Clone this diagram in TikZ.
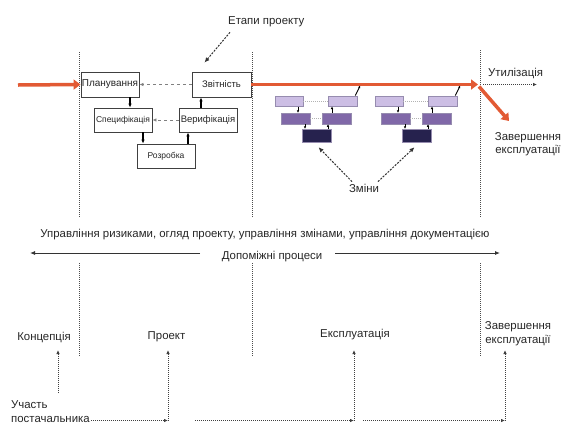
\documentclass[tikz,border=0pt]{standalone}
\usepackage{fontspec}
\setmainfont{Liberation Sans}
\usetikzlibrary{arrows.meta,calc}
\definecolor{orangeline}{RGB}{226,90,52}
\definecolor{lavtop}{RGB}{204,190,228}
\definecolor{lavmid}{RGB}{128,104,168}
\definecolor{lavbot}{RGB}{38,34,78}
\definecolor{lavedge}{RGB}{150,140,175}
\tikzset{
  box/.style={draw=black!75, line width=0.9pt, fill=white, minimum width=58pt, minimum height=25pt, inner sep=0pt, text=black!85},
  arr/.style={-{Latex[length=4pt,width=3.5pt]}, line width=1.1pt},
  dgray/.style={dashed, gray, line width=0.7pt, -{Latex[length=4pt,width=3.5pt]}},
  vdot/.style={black!70, line width=0.9pt, dash pattern=on 1pt off 1pt},
  dotarr/.style={black!75, line width=0.9pt, dash pattern=on 1pt off 1pt, -{Latex[length=4pt,width=3.5pt]}},
  dasharr/.style={black!80, line width=1pt, dash pattern=on 2pt off 1.3pt, -{Latex[length=5pt,width=4.5pt]}},
  oarr/.style={orangeline, line width=3.5pt, -{Triangle[length=7pt,width=10pt]}},
  gbox/.style={draw=lavedge, line width=0.5pt, minimum width=29pt, minimum height=11pt, inner sep=0pt},
  garr/.style={-{Latex[length=2.5pt,width=2.5pt]}, line width=0.9pt},
  gdot/.style={gray!60, line width=0.6pt, dash pattern=on 1pt off 1pt},
  txt/.style={inner sep=0pt, text=black!85, font=\fontsize{11.4}{13.5}\selectfont},
  solidarr/.style={black!80, line width=0.9pt, -{Latex[length=5pt,width=4pt]}},
}
\begin{document}
\begin{tikzpicture}[x=1pt,y=-1pt]
\useasboundingbox (0,0) rectangle (561,424);
% vertical dotted lines
\foreach \xx/\yt in {79/52,252/52,480/50}{
  \draw[vdot] (\xx,\yt) -- (\xx,217);
  \draw[vdot] (\xx,263) -- (\xx,357);
}
% project stages
\node[box, font=\fontsize{10}{12}\selectfont] (plan) at (110,84.5) {Планування};
\node[box, minimum width=59pt, font=\fontsize{9.5}{11}\selectfont] (zvit) at (221.5,84.5) {Звітність};
\node[box, minimum height=24pt, font=\fontsize{8.5}{10}\selectfont] (spec) at (123,120) {Специфікація};
\node[box, minimum height=24pt, font=\fontsize{9.5}{11}\selectfont] (verif) at (208,120) {Верифікація};
\node[box, minimum height=24pt, font=\fontsize{8.5}{10}\selectfont] (rozr) at (166,156) {Розробка};
\draw[arr] ([xshift=20pt]plan.south) -- ([xshift=20pt]plan.south |- spec.north);
\draw[arr] ([xshift=20pt]spec.south) -- ([xshift=20pt]spec.south |- rozr.north);
\draw[arr] ([xshift=22pt]rozr.north) -- ([xshift=22pt]rozr.north |- verif.south);
\draw[arr] ([xshift=-7pt]verif.north) -- ([xshift=-7pt]verif.north |- zvit.south);
\draw[dgray] (zvit.west) -- (plan.east);
\draw[dgray] (verif.west) -- (spec.east);
% title
\node[txt, anchor=west] (etapy) at (228,22) {Етапи проекту};
\draw[dasharr] ([xshift=2pt,yshift=-5pt]etapy.south west) -- ([xshift=-17pt,yshift=9pt]zvit.north);
% orange life line
\coordinate (ostart) at (18,85);
\coordinate (oend) at (478,84.5);
\coordinate (odown) at (509,121);
\coordinate (uend) at (537,84.5);
\draw[oarr] (ostart) -- (plan.west);
\draw[oarr] (zvit.east) -- (oend);
\draw[oarr] ([xshift=1pt,yshift=-2pt]oend) -- (odown);
\draw[dotarr] ([xshift=5pt]oend) -- (uend);
\node[txt, anchor=west] (utyl) at (488,73) {Утилізація};
\node[txt, align=center] (zav1) at (528,144) {Завершення\\експлуатації};
% changes groups
\foreach \dx/\s in {0/a,100/b}{
  \node[gbox, fill=lavtop, minimum width=28pt, minimum height=10.5pt] (tl\s) at (289+\dx,101) {};
  \node[gbox, fill=lavtop, minimum height=10.5pt] (tr\s) at (342.5+\dx,101) {};
  \node[gbox, fill=lavmid] (ml\s) at (295.5+\dx,118.5) {};
  \node[gbox, fill=lavmid] (mr\s) at (336.5+\dx,118.5) {};
  \node[gbox, fill=lavbot, minimum height=13pt] (bt\s) at (316.5+\dx,135.5) {};
  \draw[gdot] (tl\s.east) -- (tr\s.west);
  \draw[gdot] (ml\s.east) -- (mr\s.west);
  \draw[garr] ([xshift=9pt]tl\s.south) -- ([xshift=9pt]tl\s.south |- ml\s.north);
  \draw[garr] ([xshift=9.5pt]ml\s.south) -- ([xshift=9.5pt]ml\s.south |- bt\s.north);
  \draw[garr] ([xshift=11.5pt]bt\s.north) -- ([xshift=11.5pt]bt\s.north |- mr\s.south);
  \draw[garr] ([xshift=-4.5pt]mr\s.north) -- ([xshift=-4.5pt]mr\s.north |- tr\s.south);
  \draw[garr] ([xshift=-2pt]tr\s.north east) -- ([xshift=3pt,yshift=10pt]tr\s.north east);
}
\node[txt] (zminy) at (364,188) {Зміни};
\draw[dasharr] ([xshift=-12pt,yshift=2pt]zminy.north) -- ([xshift=2pt,yshift=-5pt]bta.south);
\draw[dasharr] ([xshift=14pt,yshift=2pt]zminy.north) -- ([xshift=-2pt,yshift=-5pt]btb.south);
% support processes
\node[txt] (upr) at (265,235) {Управління ризиками, огляд проекту, управління змінами, управління документацією};
\node[txt] (dop) at (272,257) {Допоміжні процеси};
\coordinate (la) at (30,253);
\coordinate (ra) at (500,253);
\draw[solidarr] (200,253) -- (la);
\draw[solidarr] (335,253) -- (ra);
% phases
\node[txt] (konc) at (44,337) {Концепція};
\node[txt] (proekt) at (166.5,337) {Проект};
\node[txt] (eksp) at (355,335) {Експлуатація};
\node[txt, align=center] (zav2) at (518,333.5) {Завершення\\експлуатації};
\node[txt, align=left, anchor=west] (uch) at (11,411.5) {Участь\\постачальника};
\coordinate (k0) at (58,393);
\coordinate (k1) at (58,350);
\coordinate (p0) at (168,420.5);
\coordinate (p1) at (168,350);
\coordinate (e0) at (195,420.5);
\coordinate (e1) at (354,420.5);
\coordinate (e2) at (354,350);
\coordinate (z0) at (363,420.5);
\coordinate (z1) at (505,420.5);
\coordinate (z2) at (505,350);
\draw[dotarr] (k0) -- (k1);
\draw[dotarr] ([xshift=1pt]uch.east |- p0) -- (p0);
\draw[dotarr] (p0) -- (p1);
\draw[dotarr] (e0) -- (e1);
\draw[dotarr] (e1) -- (e2);
\draw[dotarr] (z0) -- (z1);
\draw[dotarr] (z1) -- (z2);
\end{tikzpicture}
\end{document}
